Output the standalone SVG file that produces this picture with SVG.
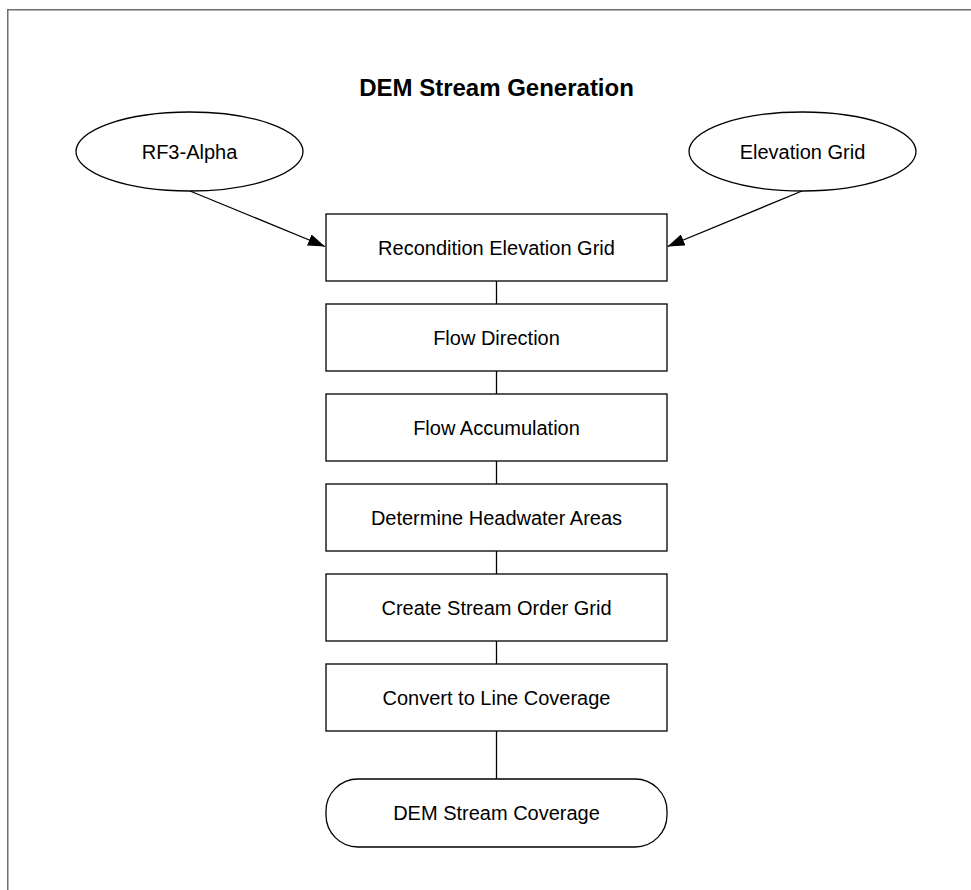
<svg xmlns="http://www.w3.org/2000/svg" width="971" height="890" viewBox="0 0 971 890">
<style>
.frame{fill:none;stroke:#6e6e6e;stroke-width:1.5}
.node{fill:#fff;stroke:#000;stroke-width:1.3}
.lbl{font-family:"Liberation Sans",Arial,sans-serif;font-size:20px;fill:#000;text-anchor:middle}
.title{font-family:"Liberation Sans",Arial,sans-serif;font-size:24px;font-weight:bold;fill:#000;text-anchor:middle}
.conn{fill:none;stroke:#000;stroke-width:1.3}
</style>
<defs>
<marker id="arr" viewBox="0 0 17 12" refX="17" refY="6" markerWidth="17" markerHeight="12" markerUnits="userSpaceOnUse" orient="auto">
<path d="M0,0 L17,6 L0,12 z" fill="#000"/>
</marker>
</defs>
<rect width="971" height="890" fill="#fff"/>
<rect class="frame" x="7.75" y="9.75" width="1000" height="1000"/>
<text class="title" x="496.5" y="96">DEM Stream Generation</text>
<g id="connectors">
<line class="conn" x1="190" y1="191" x2="325" y2="246.5" marker-end="url(#arr)"/>
<line class="conn" x1="802" y1="191" x2="667.5" y2="246.5" marker-end="url(#arr)"/>
<line class="conn" x1="496.5" y1="281" x2="496.5" y2="304"/>
<line class="conn" x1="496.5" y1="371" x2="496.5" y2="394"/>
<line class="conn" x1="496.5" y1="461" x2="496.5" y2="484"/>
<line class="conn" x1="496.5" y1="551" x2="496.5" y2="574"/>
<line class="conn" x1="496.5" y1="641" x2="496.5" y2="664"/>
<line class="conn" x1="496.5" y1="731" x2="496.5" y2="779"/>
</g>
<g id="rf3alpha">
<ellipse class="node" cx="189.5" cy="151.5" rx="113.5" ry="39.5"/>
<text class="lbl" x="189.5" y="158.5">RF3-Alpha</text>
</g>
<g id="elevationgrid">
<ellipse class="node" cx="802.5" cy="151.5" rx="113.5" ry="39.5"/>
<text class="lbl" x="802.5" y="158.5">Elevation Grid</text>
</g>
<g id="recondition">
<rect class="node" x="326" y="214" width="341" height="67"/>
<text class="lbl" x="496.5" y="254.5">Recondition Elevation Grid</text>
</g>
<g id="flowdirection">
<rect class="node" x="326" y="304" width="341" height="67"/>
<text class="lbl" x="496.5" y="344.5">Flow Direction</text>
</g>
<g id="flowaccumulation">
<rect class="node" x="326" y="394" width="341" height="67"/>
<text class="lbl" x="496.5" y="434.5">Flow Accumulation</text>
</g>
<g id="headwater">
<rect class="node" x="326" y="484" width="341" height="67"/>
<text class="lbl" x="496.5" y="524.5">Determine Headwater Areas</text>
</g>
<g id="streamorder">
<rect class="node" x="326" y="574" width="341" height="67"/>
<text class="lbl" x="496.5" y="614.5">Create Stream Order Grid</text>
</g>
<g id="convert">
<rect class="node" x="326" y="664" width="341" height="67"/>
<text class="lbl" x="496.5" y="704.5">Convert to Line Coverage</text>
</g>
<g id="coverage">
<rect class="node" x="326" y="779" width="341" height="68" rx="32" ry="32"/>
<text class="lbl" x="496.5" y="820">DEM Stream Coverage</text>
</g>
</svg>
